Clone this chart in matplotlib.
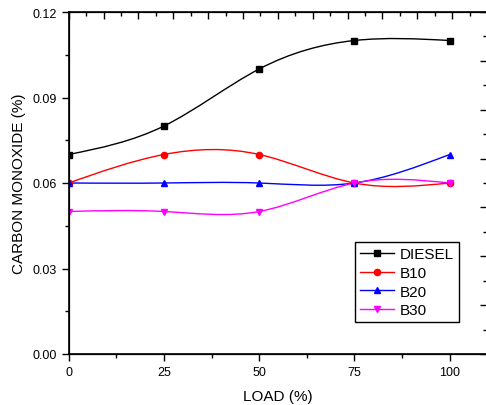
import numpy as np
import matplotlib
matplotlib.use("Agg")
import matplotlib.pyplot as plt
from matplotlib.path import Path
from matplotlib.patches import PathPatch
from matplotlib.lines import Line2D
from matplotlib.ticker import MultipleLocator

plt.rcParams['font.family'] = ['Liberation Sans', 'DejaVu Sans']

load = [0, 25, 50, 75, 100]
diesel = [0.07, 0.08, 0.10, 0.11, 0.11]
b10 = [0.06, 0.07, 0.07, 0.06, 0.06]
b20 = [0.06, 0.06, 0.06, 0.06, 0.07]
b30 = [0.05, 0.05, 0.05, 0.06, 0.06]

series = [
    ("DIESEL", diesel, "black", "s"),
    ("B10", b10, "#ff0000", "o"),
    ("B20", b20, "#0000ff", "^"),
    ("B30", b30, "#ff00ff", "v"),
]


def spline_path(x, y):
    # natural cubic spline, drawn as bezier segments
    x = np.asarray(x, float)
    y = np.asarray(y, float)
    n = len(x)
    h = np.diff(x)
    A = np.zeros((n, n))
    r = np.zeros(n)
    A[0, 0] = A[-1, -1] = 1
    for i in range(1, n - 1):
        A[i, i - 1] = h[i - 1]
        A[i, i] = 2 * (h[i - 1] + h[i])
        A[i, i + 1] = h[i]
        r[i] = 6 * ((y[i + 1] - y[i]) / h[i] - (y[i] - y[i - 1]) / h[i - 1])
    M = np.linalg.solve(A, r)
    m = np.zeros(n)
    for i in range(n - 1):
        m[i] = (y[i + 1] - y[i]) / h[i] - h[i] * (2 * M[i] + M[i + 1]) / 6
    m[-1] = (y[-1] - y[-2]) / h[-1] + h[-1] * (M[-2] + 2 * M[-1]) / 6
    verts = [(x[0], y[0])]
    codes = [Path.MOVETO]
    for i in range(n - 1):
        d = h[i] / 3
        verts += [(x[i] + d, y[i] + d * m[i]),
                  (x[i + 1] - d, y[i + 1] - d * m[i + 1]),
                  (x[i + 1], y[i + 1])]
        codes += [Path.CURVE4] * 3
    return Path(verts, codes)


fig = plt.figure(figsize=(4.86, 4.06), dpi=100)
ax = fig.add_axes([68.7 / 486, 51 / 406, (487 - 68.7) / 486, 342 / 406])

handles = []
for name, vals, col, mk in series:
    ax.add_patch(PathPatch(spline_path(load, vals), fill=False, edgecolor=col, lw=1.0))
    ax.plot(load, vals, linestyle="none", marker=mk, color=col, markersize=4.5)
    handles.append(Line2D([], [], color=col, marker=mk, markersize=4.5, lw=1.0, label=name))

ax.set_xlim(0, 109.8)
ax.set_ylim(0, 0.12)
ax.set_xticks(load)
ax.xaxis.set_minor_locator(MultipleLocator(12.5))
ax.set_yticks([0, 0.03, 0.06, 0.09, 0.12])
ax.set_yticklabels(["0.00", "0.03", "0.06", "0.09", "0.12"])
ax.yaxis.set_minor_locator(MultipleLocator(0.015))
ax.tick_params(which="major", direction="out", length=5, width=1, labelsize=9)
ax.tick_params(which="minor", direction="out", length=3, width=1)
ax.set_xlabel("LOAD (%)", fontsize=11, labelpad=8)
ax.set_ylabel("CARBON MONOXIDE (%)", fontsize=11, labelpad=5)
for s in ax.spines.values():
    s.set_linewidth(1.2)

# extra top and right axes, ticks only
axt = ax.twiny()
axt.set_xlim(0, 12)
axt.xaxis.set_major_locator(MultipleLocator(1))
axt.xaxis.set_minor_locator(MultipleLocator(0.5))
axt.tick_params(which="major", direction="in", length=5, width=1, labeltop=False)
axt.tick_params(which="minor", direction="in", length=3, width=1)
axr = ax.twinx()
axr.set_ylim(0, 7)
axr.yaxis.set_major_locator(MultipleLocator(1))
axr.yaxis.set_minor_locator(MultipleLocator(0.5))
axr.tick_params(which="major", direction="in", length=5, width=1, labelright=False)
axr.tick_params(which="minor", direction="in", length=3, width=1)

leg = ax.legend(handles=handles, loc="upper right", bbox_to_anchor=(459.3 / 486, 1 - 243 / 406),
                bbox_transform=fig.transFigure, borderaxespad=0, fontsize=11,
                frameon=True, fancybox=False, framealpha=1, edgecolor="black",
                handlelength=2.2, handletextpad=0.4, labelspacing=0.3, borderpad=0.35)
leg.get_frame().set_linewidth(1.0)

fig.savefig("out.png", dpi=100)
